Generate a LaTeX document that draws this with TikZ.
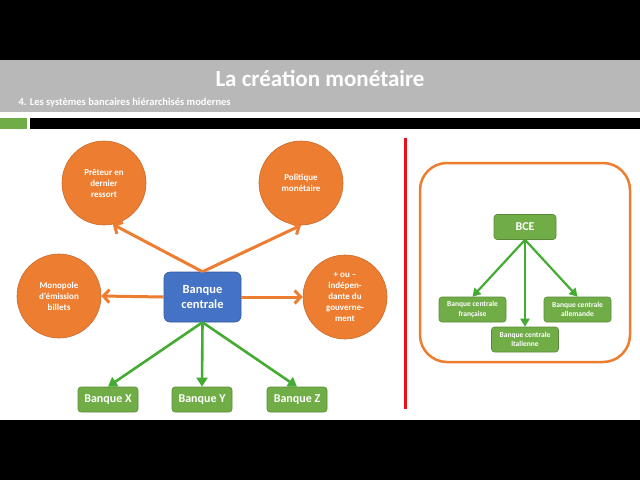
\documentclass[tikz,border=0pt]{standalone}
\usepackage{fontspec}
\setmainfont{Carlito}
\usetikzlibrary{arrows.meta}
\definecolor{bandgray}{RGB}{184,184,184}
\definecolor{slideorange}{RGB}{237,125,49}
\definecolor{slideblue}{RGB}{68,114,196}
\definecolor{slidegreen}{RGB}{112,173,71}
\definecolor{arrowgreen}{RGB}{68,172,50}
\definecolor{linered}{RGB}{232,16,28}

\begin{document}
\begin{tikzpicture}[x=1pt, y=-1pt, >={Straight Barb[length=6pt,width=13pt]},
    rond/.style={circle, fill=slideorange, draw=slideorange!85!black, line width=0.6pt,
        minimum size=84pt, inner sep=0pt, text=white, align=center,
        font=\fontsize{9}{11}\selectfont\bfseries},
    banque/.style={rounded corners=3pt, fill=slidegreen, draw=slidegreen!80!black,
        line width=0.6pt, text=white, align=center, inner sep=0pt,
        minimum width=60pt, minimum height=25pt, font=\fontsize{12}{14}\selectfont\bfseries},
    petite/.style={banque, minimum width=67pt, font=\fontsize{7.5}{9.5}\selectfont\bfseries},
    fleche/.style={->, slideorange, line width=3pt},
    lien/.style={-{Triangle[length=9pt,width=11pt]}, arrowgreen, line width=2.6pt},
    petitlien/.style={-{Triangle[length=8pt,width=9pt]}, arrowgreen, line width=2.2pt}]
    \useasboundingbox (0,0) rectangle (640,480);
    % Frame of the slide
    \fill[black] (0,0) rectangle (640,60);
    \fill[black] (0,420) rectangle (640,480);
    \fill[white] (0,60) rectangle (640,420);
    \fill[bandgray] (0,60) rectangle (640,112);
    \fill[slidegreen] (0,118) rectangle (27,129);
    \fill[black] (30,118) rectangle (640,129);
    \node[text=white, font=\fontsize{23}{26}\selectfont\bfseries] (titre) at (320,78) {La création monétaire};
    \node[text=white, anchor=west, font=\fontsize{10.5}{12}\selectfont\bfseries] (soustitre) at (15,103)
        {4. Les systèmes bancaires hiérarchisés modernes};
    \draw[linered, line width=3pt] (405,138) -- (405,409);
    % Banque centrale
    \node[rounded corners=6pt, fill=slideblue, draw=slideblue!80!black, line width=0.6pt,
        minimum width=77pt, minimum height=50pt, inner sep=0pt, text=white, align=center,
        font=\fontsize{12.5}{15}\selectfont\bfseries] (bc) at (202.5,297) {Banque\\centrale};
    % Roles
    \node[rond] (preteur) at (104,183) {Prêteur en\\dernier\\ressort};
    \node[rond] (politique) at (301,183) {Politique\\monétaire};
    \node[rond] (monopole) at (59,296) {Monopole\\d’émission\\billets};
    \node[rond] (indep) at (345,297) {+ ou –\\indépen-\\dante du\\gouverne-\\ment};
    \draw[fleche] (bc.north) -- (preteur.-78);
    \draw[fleche] (bc.north) -- (politique.south);
    \draw[fleche] (bc.west) -- (monopole.east);
    \draw[fleche] (bc.east) -- (indep.west);
    % Banques
    \node[banque] (bx) at (108,399.5) {Banque X};
    \node[banque] (by) at (202,399.5) {Banque Y};
    \node[banque] (bz) at (297,399.5) {Banque Z};
    \draw[lien] (bc.south) -- (bx.north);
    \draw[lien] (bc.south) -- (by.north);
    \draw[lien] (bc.south) -- (bz.north);
    % Eurosysteme
    \draw[slideorange, line width=2.5pt, rounded corners=27pt] (420,163) rectangle (630,362);
    \node[banque, minimum width=62pt] (bce) at (525,227) {BCE};
    \node[petite] (fr) at (472.5,309.5) {Banque centrale\\française};
    \node[petite] (de) at (577.5,309.5) {Banque centrale\\allemande};
    \node[petite] (it) at (525,339.5) {Banque centrale\\italienne};
    \draw[petitlien] (bce.south) -- (fr.north);
    \draw[petitlien] (bce.south) -- (it.north);
    \draw[petitlien] (bce.south) -- (de.north);
\end{tikzpicture}
\end{document}
